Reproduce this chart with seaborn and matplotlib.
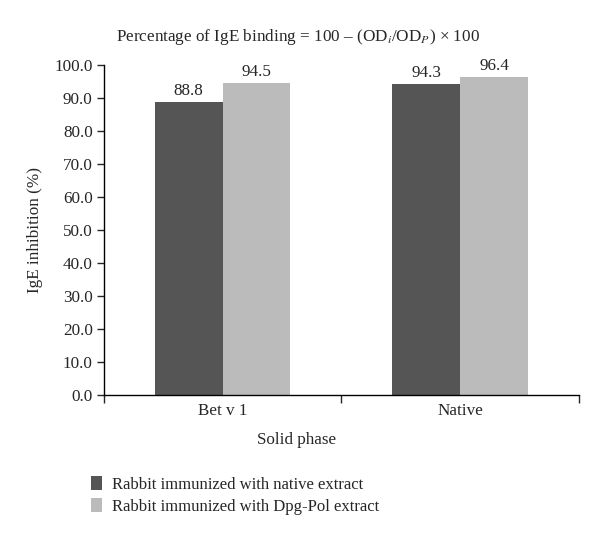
import numpy as np
import pandas as pd
import matplotlib.pyplot as plt
import seaborn as sns

phases = ["Bet v 1", "Native"]
native_extract = [88.8, 94.3]
dpg_pol_extract = [94.5, 96.4]
series_names = ["Rabbit immunized with native extract", "Rabbit immunized with Dpg-Pol extract"]
yticks = np.arange(0, 101, 10)

sns.set_style("white")
plt.rcParams['font.family'] = ['Liberation Serif', 'DejaVu Serif']
plt.rcParams['mathtext.fontset'] = 'stix'

data = pd.DataFrame({
    "phase": phases * 2,
    "value": native_extract + dpg_pol_extract,
    "series": [series_names[0]] * 2 + [series_names[1]] * 2,
})

fig = plt.figure(figsize=(6, 5.4), dpi=100)
ax = fig.add_axes([0.173, 0.2685, 0.792, 0.6115])
sns.barplot(data=data, x="phase", y="value", hue="series", palette=["#555555", "#bbbbbb"],
            width=0.57, gap=0, saturation=1, linewidth=0, ax=ax)

# value labels above bars
for c in ax.containers:
    ax.bar_label(c, fmt="%.1f", padding=2, fontsize=12.3)

ax.set_xlim(-0.5, 1.5)
ax.set_ylim(0, 100)
ax.set_yticks(yticks)
ax.set_yticklabels([f"{v:.1f}" for v in yticks], fontsize=12.3)
ax.tick_params(axis="y", direction="out", length=5, width=1, left=True, pad=3)
ax.tick_params(axis="x", which="major", length=0, labelsize=12.3, pad=6)
# category boundary ticks on the x axis
ax.set_xticks([-0.5, 0.5, 1.5], minor=True)
ax.tick_params(axis="x", which="minor", direction="out", length=6, width=1, bottom=True)
sns.despine(ax=ax)
for s in ["left", "bottom"]:
    ax.spines[s].set_color("black")
    ax.spines[s].set_linewidth(1)

ax.set_xlabel("")
ax.set_ylabel("IgE inhibition (%)", fontsize=12.3, labelpad=8)
fig.text(0.495, 0.185, "Solid phase", ha="center", va="center", fontsize=12.3)
fig.text(0.496, 0.931, r"Percentage of IgE binding = 100 – (OD$_{i}$/OD$_{P}$) × 100",
         ha="center", va="center", fontsize=12.3)

handles, labels = ax.get_legend_handles_labels()
ax.get_legend().remove()
fig.legend(handles, labels, loc="upper left", bbox_to_anchor=(0.14, 0.13), frameon=False,
           fontsize=12, handlelength=0.7, handleheight=0.9, handletextpad=0.6, labelspacing=0.3,
           borderaxespad=0)

fig.savefig("out.png", dpi=100)
